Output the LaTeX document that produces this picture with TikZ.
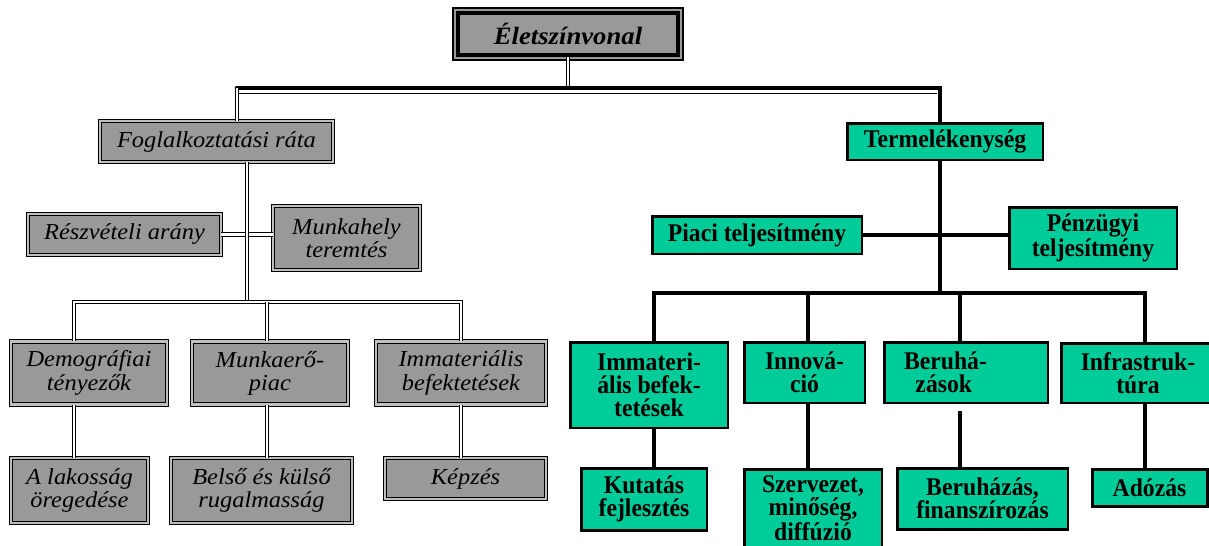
\documentclass[tikz,border=0pt]{standalone}
\usepackage{fontspec}
\setmainfont{Liberation Serif}
\newfontfamily\dolt[FakeStretch=1.07]{Liberation Serif}
\newfontfamily\keskeny[FakeStretch=0.93]{Liberation Serif}
\definecolor{zold}{RGB}{0,204,153}
\definecolor{szurke}{RGB}{153,153,153}

\begin{document}
\begin{tikzpicture}[
    x=0.02cm, y=-0.02cm,
    szurke node/.style={rectangle,fill=szurke,draw,double=black!25,double distance=1.2pt,line width=0.55pt,inner sep=0pt,align=center,font=\dolt\itshape\fontsize{13}{13.2}\selectfont},
    zold node/.style={rectangle,fill=zold,draw,line width=1.7pt,inner sep=0pt,align=center,font=\keskeny\bfseries\fontsize{14.5}{13.2}\selectfont},
    cim node/.style={rectangle,fill=szurke,draw,line width=2.3pt,inner sep=0pt,font=\dolt\bfseries\itshape\fontsize{14.2}{14}\selectfont},
    dupla/.style={double,double distance=1.2pt,line width=0.55pt},
    vonal/.style={line width=1.8pt},
    vastag/.style={line width=2.6pt}
]
\useasboundingbox (0,0) rectangle (1209,545);

% Top
\draw[fill=szurke,line width=0.6pt] (453,8) rectangle (683,60);
\node[cim node,minimum width=4.4cm,minimum height=0.84cm] (elet) at (568,34) {Életszínvonal};

% Left branch
\node[szurke node,minimum width=4.66cm,minimum height=0.82cm] (fog) at (216.5,141.5) {Foglalkoztatási ráta};
\node[szurke node,minimum width=3.86cm,minimum height=0.82cm] (resz) at (124.5,234.5) {Részvételi arány};
\node[szurke node,minimum width=2.94cm,minimum height=1.28cm] (munkah) at (346.5,238) {Munkahely\\teremtés};
\node[szurke node,minimum width=3.12cm,minimum height=1.26cm] (demo) at (89,373) {Demográfiai\\tényezők};
\node[szurke node,minimum width=3.12cm,minimum height=1.26cm] (munkaero) at (270,373) {Munkaerő-\\piac};
\node[szurke node,minimum width=3.40cm,minimum height=1.26cm] (imml) at (461,373) {Immateriális\\befektetések};
\node[szurke node,minimum width=2.74cm,minimum height=1.30cm] (lakos) at (79.5,490.5) {A lakosság\\öregedése};
\node[szurke node,minimum width=3.62cm,minimum height=1.30cm] (belso) at (261.5,490.5) {Belső és külső\\rugalmasság};
\node[szurke node,minimum width=3.22cm,minimum height=0.82cm] (kepzes) at (465.5,478.5) {Képzés};

% Right branch
\node[zold node,minimum width=3.92cm,minimum height=0.74cm] (term) at (945,141.5) {Termelékenység};
\node[zold node,minimum width=4.20cm,minimum height=0.76cm] (piaci) at (757,235) {Piaci teljesítmény};
\node[zold node,minimum width=3.36cm,minimum height=1.24cm] (penz) at (1093,238) {Pénzügyi\\teljesítmény};
\node[zold node,minimum width=3.16cm,minimum height=1.72cm] (immr) at (649,385) {Immateri-\\ális befek-\\tetések};
\node[zold node,minimum width=2.42cm,minimum height=1.22cm] (innov) at (804.5,372.5) {Innová-\\ció};
\node[zold node,minimum width=3.28cm,minimum height=1.22cm,align=left,text width=2.48cm] (beruh) at (966,372.5) {Beruhá-\\\hspace{0.45em}zások};
\node[zold node,minimum width=3.08cm,minimum height=1.20cm] (infra) at (1138,373) {Infrastruk-\\túra};
\node[zold node,minimum width=2.52cm,minimum height=1.24cm] (kutat) at (644,499) {Kutatás\\fejlesztés};
\node[zold node,minimum width=2.76cm,minimum height=1.56cm] (szerv) at (813,508) {Szervezet,\\minőség,\\diffúzió};
\node[zold node,minimum width=3.42cm,minimum height=1.22cm] (beruhfin) at (982.5,498.5) {Beruházás,\\finanszírozás};
\node[zold node,minimum width=2.30cm,minimum height=0.74cm] (adozas) at (1149.5,487.5) {Adózás};

% Bus points
\coordinate (barL) at (237,88);
\coordinate (barR) at (940,88);
\coordinate (barL2) at (237,93);
\coordinate (barR2) at (937,93);
\coordinate (busF) at (247,302);
\coordinate (demoX) at (74,302);
\coordinate (mX) at (267,302);
\coordinate (immX) at (461,302);
\coordinate (busT) at (940,293);
\coordinate (b1) at (654,293);
\coordinate (b2) at (808,293);
\coordinate (b3) at (960,293);
\coordinate (b4) at (1145,293);

% Top connectors
\draw[dupla] (elet.south) -- (elet.south |- barL);
\draw[vastag,line cap=round] (barL) -- (barR) -- (term.north -| barR);
\draw[line width=0.55pt] (barL2) -- (barR2);
\draw[dupla] (barL) -- (fog.north -| barL);

% Left connectors
\draw[dupla] (resz.east) -- (munkah.west |- resz.east);
\draw[dupla] (fog.south -| busF) -- (busF);
\draw[dupla] (demo.north -| demoX) -- (demoX) -- (immX) -- (imml.north);
\draw[dupla] (munkaero.north -| mX) -- (mX);
\draw[dupla] (demo.south -| demoX) -- (lakos.north -| demoX);
\draw[dupla] (munkaero.south -| mX) -- (belso.north -| mX);
\draw[dupla] (imml.south) -- (kepzes.north -| imml.south);

% Right connectors
\draw[vonal] (term.south -| busT) -- (busT);
\draw[vonal] (piaci.east) -- (penz.west |- piaci.east);
\draw[vonal] (immr.north -| b1) -- (b1) -- (b4) -- (infra.north -| b4);
\draw[vonal] (innov.north -| b2) -- (b2);
\draw[vonal] (beruh.north -| b3) -- (b3);
\draw[vonal] (immr.south -| b1) -- (kutat.north -| b1);
\draw[vonal] (innov.south -| b2) -- (szerv.north -| b2);
\draw[vonal] ([yshift=-0.14cm]beruh.south -| b3) -- (beruhfin.north -| b3);
\draw[vonal] (infra.south -| b4) -- (adozas.north -| b4);

\end{tikzpicture}
\end{document}
